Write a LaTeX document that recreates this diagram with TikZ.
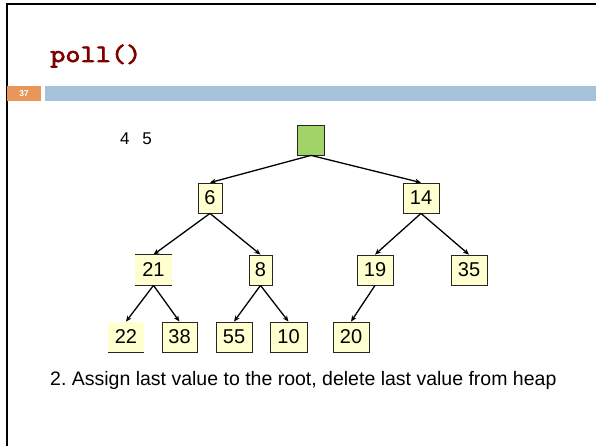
\documentclass[tikz,border=0pt]{standalone}
\usepackage{fontspec}
\setmainfont{Liberation Sans}
\newfontfamily\codefont{Latin Modern Mono}[FakeBold=3,FakeStretch=1.18]
\usetikzlibrary{arrows.meta}
\definecolor{titlered}{RGB}{128,0,0}
\definecolor{nodefill}{RGB}{255,255,208}
\definecolor{rootgreen}{RGB}{160,212,104}
\definecolor{barorange}{RGB}{232,150,90}
\definecolor{barblue}{RGB}{165,194,218}
\frenchspacing
\begin{document}
\begin{tikzpicture}[x=1pt,y=-1pt,
  heapnode/.style={draw=black!85, fill=nodefill, line width=0.8pt, inner sep=0pt,
    minimum height=30pt, font=\fontsize{20}{20}\selectfont},
  openside/.style={heapnode, draw=none},
  edge/.style={line width=1.3pt, -{Stealth[length=6pt,width=5pt]}},
  frameline/.style={line width=2.2pt, black}]
\useasboundingbox (0,0) rectangle (596,446);
\fill[white] (0,0) rectangle (596,446);
% slide frame
\draw[frameline] (7,446) -- (7,4) -- (596,4);
% title
\node[anchor=base west, inner sep=0pt, text=titlered, font=\codefont\fontsize{25}{25}\selectfont] (title) at (50,62) {poll()};
% bars
\fill[barorange] (7,86) rectangle (41,101);
\node[text=white, font=\bfseries\fontsize{8.5}{8.5}\selectfont, inner sep=0pt] (num) at (24,93.5) {37};
\fill[barblue] (45,86) rectangle (596,101);
% side text
\node[anchor=base west, inner sep=0pt, font=\fontsize{17}{17}\selectfont] (idx) at (120,145) {4\hspace{0.75em}5};
% tree
\node[heapnode, fill=rootgreen, minimum width=27pt] (root) at (311,140) {};
\node[heapnode, minimum width=24pt] (n6) at (210,198) {6};
\node[heapnode, minimum width=36pt] (n14) at (421,198) {14};
\node[openside, minimum width=37pt] (n21) at (153.5,270) {21};
\node[heapnode, minimum width=23pt] (n8) at (260.5,270) {8};
\node[heapnode, minimum width=36pt] (n19) at (375,270) {19};
\node[heapnode, minimum width=36pt] (n35) at (469,270) {35};
\node[openside, minimum width=36pt] (n22) at (126,337) {22};
\node[heapnode, minimum width=35pt] (n38) at (179.5,337) {38};
\node[heapnode, minimum width=36pt] (n55) at (234,337) {55};
\node[heapnode, minimum width=37pt] (n10) at (288.5,337) {10};
\node[heapnode, minimum width=36pt] (n20) at (351,337) {20};
\draw[black!85, line width=0.8pt] (n21.north west) -- (n21.north east) (n21.south west) -- (n21.south east);
\draw[black!85, line width=0.8pt] (n22.south west) -- (n22.south east);
% edges
\draw[edge] (root.south) -- (n6.north);
\draw[edge] (root.south) -- (n14.north);
\draw[edge] (n6.south) -- (n21.north);
\draw[edge] (n6.south) -- (n8.north);
\draw[edge] (n14.south) -- (n19.north);
\draw[edge] (n14.south) -- (n35.north);
\draw[edge] (n21.south) -- (n22.north);
\draw[edge] (n21.south) -- (n38.north);
\draw[edge] (n8.south) -- (n55.north);
\draw[edge] (n8.south) -- (n10.north);
\draw[edge] (n19.south) -- (n20.north);
% caption
\node[anchor=base west, inner sep=0pt, font=\fontsize{19.5}{19.5}\selectfont] (caption) at (50,385) {2. Assign last value to the root, delete last value from heap};
\end{tikzpicture}
\end{document}
